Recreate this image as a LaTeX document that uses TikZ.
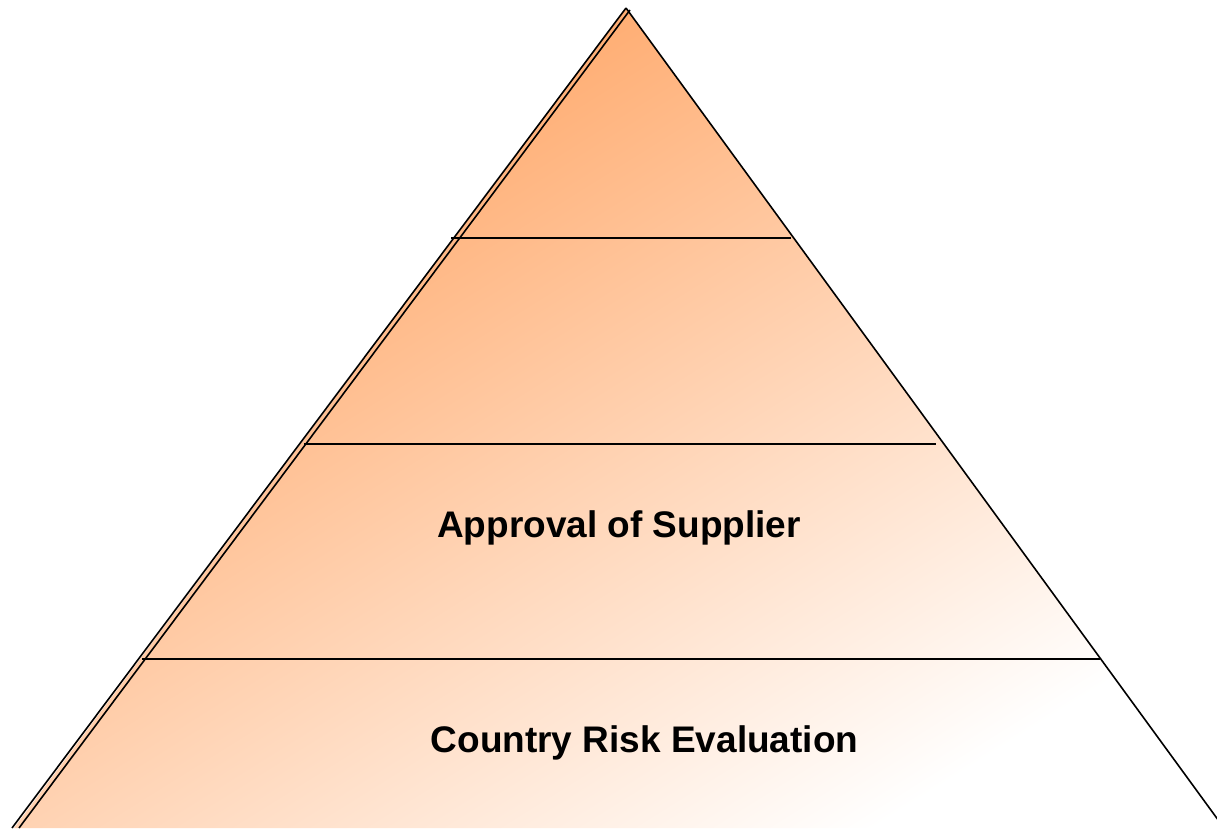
\documentclass[tikz,border=0pt]{standalone}
\usepackage{fontspec}
\setmainfont{Liberation Sans}
\begin{document}
\begin{tikzpicture}[x=1pt,y=-1pt,
  edge/.style={draw=black,line width=1.6pt},
  label/.style={font=\bfseries\fontsize{37}{40}\selectfont,anchor=base,inner sep=0pt}]
\useasboundingbox (0,0) rectangle (1217,828);
\clip (0,0) rectangle (1217,828);
\definecolor{topor}{HTML}{FFA05C}
\shade[top color=topor,bottom color=white,shading angle=32] (626,8) -- (1224,828) -- (14,828) -- cycle;
\coordinate (apex) at (626,8);
\coordinate (apexin) at (630,10);
\coordinate (bl) at (12,828);
\coordinate (blin) at (19,828);
\coordinate (br) at (1224,828);
\draw[edge] (apex) -- (bl);
\draw[edge] (apexin) -- (blin);
\draw[edge] (apex) -- (br);
\coordinate (l1) at (451,238); \coordinate (r1) at (791,238);
\coordinate (l2) at (304,444); \coordinate (r2) at (936,444);
\coordinate (l3) at (142,659); \coordinate (r3) at (1100,659);
\draw[edge] (l1) -- (r1);
\draw[edge] (l2) -- (r2);
\draw[edge] (l3) -- (r3);
\node[label] (t1) at (619,537) {Approval of Supplier};
\node[label] (t2) at (644.5,752) {Country Risk Evaluation};
\end{tikzpicture}
\end{document}
